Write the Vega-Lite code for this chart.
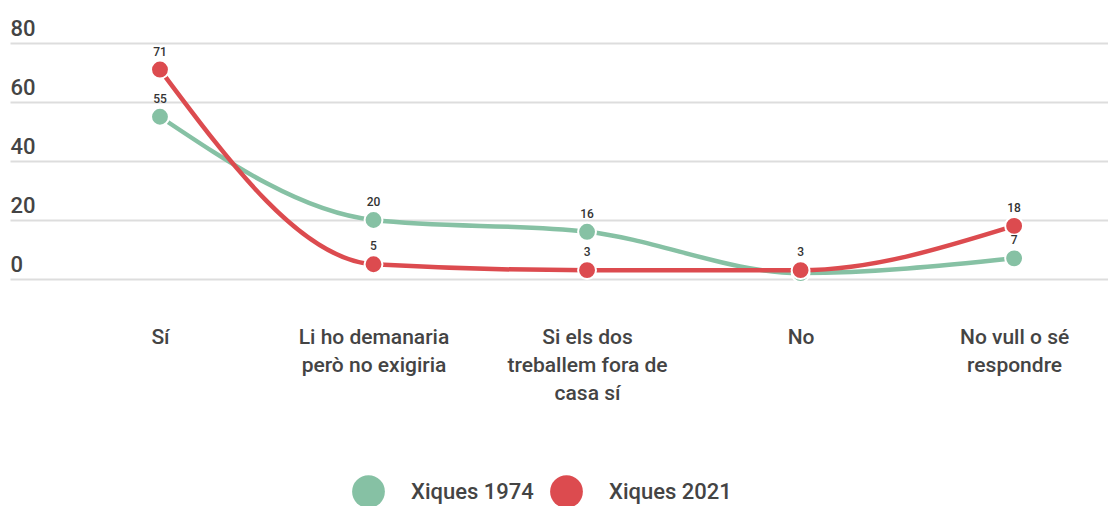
{
  "$schema": "https://vega.github.io/schema/vega-lite/v6.json",
  "width": 1098,
  "height": 236,
  "autosize": "none",
  "padding": {"left": 10, "top": 43, "right": 0, "bottom": 227},
  "background": "white",
  "config": {
    "view": {"stroke": null},
    "font": "Roboto"
  },
  "data": {
    "values": [
      {"cat": "Sí", "series": "Xiques 1974", "value": 55, "show": true},
      {"cat": "Li ho demanaria però no exigiria", "series": "Xiques 1974", "value": 20, "show": true},
      {"cat": "Si els dos treballem fora de casa sí", "series": "Xiques 1974", "value": 16, "show": true},
      {"cat": "No", "series": "Xiques 1974", "value": 2, "show": false},
      {"cat": "No vull o sé respondre", "series": "Xiques 1974", "value": 7, "show": true},
      {"cat": "Sí", "series": "Xiques 2021", "value": 71, "show": true},
      {"cat": "Li ho demanaria però no exigiria", "series": "Xiques 2021", "value": 5, "show": true},
      {"cat": "Si els dos treballem fora de casa sí", "series": "Xiques 2021", "value": 3, "show": true},
      {"cat": "No", "series": "Xiques 2021", "value": 3, "show": true},
      {"cat": "No vull o sé respondre", "series": "Xiques 2021", "value": 18, "show": true}
    ]
  },
  "encoding": {
    "x": {
      "field": "cat",
      "type": "nominal",
      "sort": ["Sí", "Li ho demanaria però no exigiria", "Si els dos treballem fora de casa sí", "No", "No vull o sé respondre"],
      "scale": {"type": "point", "padding": 0.571, "align": 0.615},
      "axis": {
        "title": null,
        "domain": false,
        "ticks": false,
        "grid": false,
        "labelAngle": 0,
        "labelPadding": 47,
        "labelFontSize": 21,
        "labelFontWeight": 500,
        "labelColor": "#444444",
        "labelLineHeight": 28,
        "labelBaseline": "top",
        "labelExpr": "datum.value == 'Li ho demanaria però no exigiria' ? ['Li ho demanaria', 'però no exigiria'] : datum.value == 'Si els dos treballem fora de casa sí' ? ['Si els dos', 'treballem fora de', 'casa sí'] : datum.value == 'No vull o sé respondre' ? ['No vull o sé', 'respondre'] : datum.value"
      }
    },
    "y": {
      "field": "value",
      "type": "quantitative",
      "scale": {"domain": [0, 80], "nice": false},
      "axis": {
        "title": null,
        "values": [0, 20, 40, 60, 80],
        "domain": false,
        "ticks": false,
        "tickSize": 0,
        "labelPadding": 0,
        "labelAlign": "left",
        "labelBaseline": "alphabetic",
        "labelOffset": -8,
        "labelFontSize": 22,
        "labelFontWeight": 500,
        "labelColor": "#444444",
        "gridColor": "#dddddd",
        "gridWidth": 2
      }
    },
    "color": {
      "field": "series",
      "type": "nominal",
      "scale": {"domain": ["Xiques 1974", "Xiques 2021"], "range": ["#86c1a4", "#dc4b4f"]},
      "legend": {
        "title": null,
        "orient": "none",
        "direction": "horizontal",
        "legendX": 342,
        "legendY": 432,
        "symbolType": "circle",
        "symbolSize": 1075,
        "symbolStrokeWidth": 0,
        "symbolOpacity": 1,
        "labelFontSize": 22,
        "labelFontWeight": 500,
        "labelColor": "#444444",
        "labelOffset": 26,
        "columnPadding": 16
      }
    }
  },
  "layer": [
    {
      "mark": {"type": "line", "interpolate": "monotone", "strokeWidth": 4.5}
    },
    {
      "mark": {"type": "point", "filled": true, "size": 320, "opacity": 1, "stroke": "white", "strokeWidth": 2}
    },
    {
      "transform": [{"filter": "datum.show"}],
      "mark": {"type": "text", "dy": -18, "fontSize": 12, "fontWeight": 500},
      "encoding": {
        "text": {"field": "value", "type": "quantitative"},
        "color": {"value": "#333333"}
      }
    }
  ]
}
